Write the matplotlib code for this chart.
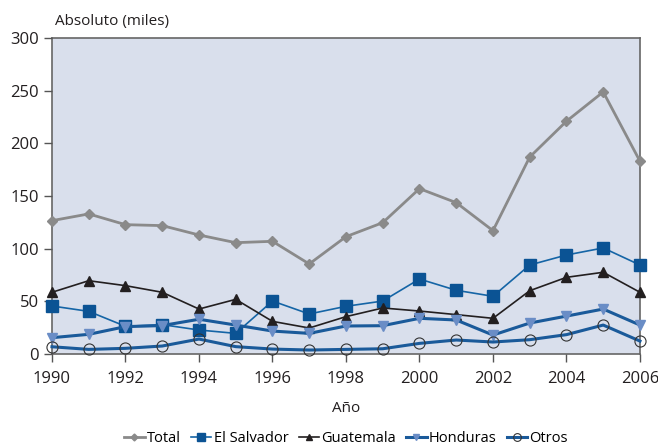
import matplotlib
matplotlib.use("Agg")
from matplotlib import pyplot as plt

plt.rcParams['font.family'] = ['Open Sans', 'DejaVu Sans']

years = list(range(1990, 2007))
total = [126.6, 133, 122.8, 121.9, 113, 105.7, 107, 85.5, 111.4, 124.7,
         157, 143.7, 117.1, 187, 221, 248.8, 183]
el_salvador = [45.6, 40.5, 26.3, 27.9, 22.8, 19.6, 50.3, 38, 45.3, 50.3,
               71.2, 60.5, 54.8, 84.5, 94, 100.7, 84.5]
guatemala = [58.6, 69.6, 64.9, 58.6, 42.7, 51.9, 31, 24.7, 35.5, 43.7,
             40.8, 37.4, 33.9, 60.1, 72.8, 77.6, 58.6]
honduras = [15.5, 18.7, 26, 27, 33, 27.5, 21.8, 19.6, 26.6, 26.9,
            33.9, 32.3, 18, 29.4, 36, 42.7, 27.5]
otros = [6.9, 4.4, 5.4, 7.6, 14.2, 7, 4.7, 3.8, 4.4, 5,
         10.1, 13.3, 11.4, 13.6, 18.4, 27.5, 12.3]

fig = plt.figure(figsize=(6.58, 4.47), dpi=100)
ax = fig.add_axes([0.079, 0.208, 0.8936, 0.707])
ax.set_facecolor('#d9dfec')

ax.plot(years, total, color='#8a8a8a', lw=2, marker='D', ms=5,
        label='Total', clip_on=False)
ax.plot(years, el_salvador, color='#1565a6', lw=1.2, marker='s', ms=8,
        mfc='#0b5394', mec='#0b5394', label='El Salvador', clip_on=False)
ax.plot(years, guatemala, color='#231f20', lw=1.2, marker='^', ms=7,
        label='Guatemala', clip_on=False)
ax.plot(years, honduras, color='#1a5a9a', lw=2.2, marker='v', ms=7,
        mfc='#6a8dc6', mec='#6a8dc6', label='Honduras', clip_on=False)
ax.plot(years, otros, color='#1a5a9a', lw=2.2, marker='o', ms=8,
        mfc='none', mec='#333333', mew=0.8, label='Otros', clip_on=False)

ax.set_xlim(1990, 2006)
ax.set_ylim(0, 300)
ax.set_xticks(range(1990, 2007, 2))
ax.set_yticks(range(0, 301, 50))
ax.tick_params(direction='out', length=6, width=1, color='#555555',
               labelsize=12, labelcolor='#231f20')
ax.tick_params(axis='x', pad=6)
for s in ax.spines.values():
    s.set_color('#666666')
    s.set_linewidth(1.2)
    s.set_zorder(1)

fig.text(0.084, 0.952, 'Absoluto (miles)', fontsize=11, color='#231f20',
         va='center', ha='left')
ax.set_xlabel('Año', fontsize=11, color='#231f20', labelpad=10)

ax.legend(loc='upper center', bbox_to_anchor=(0.5, -0.225), ncol=5,
          frameon=False, fontsize=10.5, handlelength=1.4, handletextpad=0.15,
          columnspacing=0.7, markerscale=0.7, borderaxespad=0)

fig.savefig('out.png', dpi=100)
